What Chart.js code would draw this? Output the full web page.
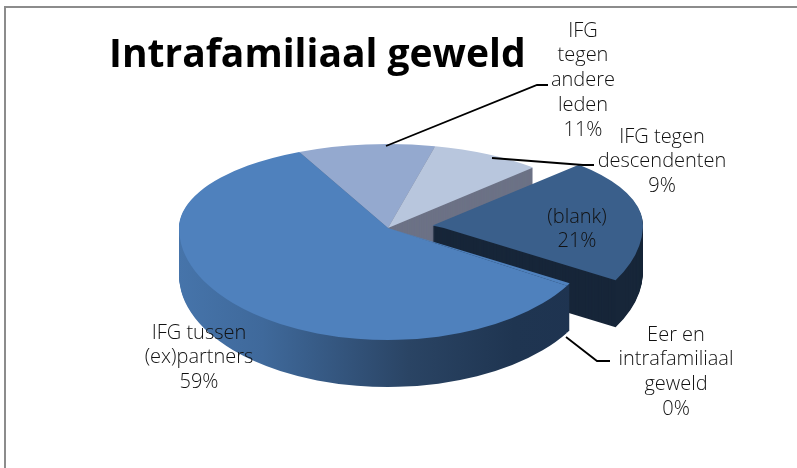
<!DOCTYPE html>
<html>
<head>
<meta charset="utf-8">
<style>
  html, body { margin: 0; padding: 0; background: #fff; }
  #wrap { width: 797px; height: 468px; }
</style>
<script src="https://cdn.jsdelivr.net/npm/chart.js@4"></script>
</head>
<body>
<div id="wrap"><canvas id="pie"></canvas></div>
<script>
// values in pie order, clockwise from the exploded slice
const sliceNames = ['(blank)', 'Eer en intrafamiliaal geweld', 'IFG tussen (ex)partners', 'IFG tegen andere leden', 'IFG tegen descendenten'];
const sliceValues = [21, 0.4, 59.4, 10.6, 8.6];
const sliceColors = ['#3a5f8b', '#4f81bd', '#4f81bd', '#94a9cf', '#b8c6dd'];
const explode = [180, 0, 0, 0, 0]; // chart.js moves a slice by offset / 4

const labelLines = [
  ['(blank)'],
  ['Eer en', 'intrafamiliaal', 'geweld'],
  ['IFG tussen', '(ex)partners'],
  ['IFG', 'tegen', 'andere', 'leden'],
  ['IFG tegen', 'descendenten']
];
const labelSpots = [[577, 217], [676, 335], [199, 333], [583, 31], [662, 137]];
const leaders = [
  [[566, 337], [597, 361], [610, 361]],
  [[386, 146], [537, 85], [548, 85]],
  [[492, 158], [583, 165], [594, 165]]
];

const RADIUS = 209;
const CENTER = [388, 228];
const TOP_SQUASH = 84 / RADIUS;
const BOTTOM_SQUASH = 112 / RADIUS;
const DEPTH = 47;
const drawOrder = [3, 4, 0, 1, 2];

// draw one arc squashed flat, back half and front half with their own scale for the perspective
function drawFlat(ctx, el, cx, cy, dy, fill) {
  const saved = el.options;
  el.options = Object.assign({}, saved, { backgroundColor: fill, borderWidth: 0 });
  [[0, CENTER[1] + dy, TOP_SQUASH], [CENTER[1] + dy, 468, BOTTOM_SQUASH]].forEach(function (part) {
    ctx.save();
    ctx.beginPath();
    ctx.rect(0, part[0], 797, part[1] - part[0]);
    ctx.clip();
    ctx.translate(CENTER[0], CENTER[1] + dy);
    ctx.scale(1, part[2]);
    ctx.translate(-cx, -cy);
    el.draw(ctx);
    ctx.restore();
  });
  el.options = saved;
}

function sideFill(ctx, index, cx) {
  if (index === 3 || index === 4) return '#6c7286';
  if (index === 0) return '#172639';
  const g = ctx.createLinearGradient(cx - RADIUS, 0, cx + RADIUS, 0);
  g.addColorStop(0, '#4674aa');
  g.addColorStop(0.2, '#3f699b');
  g.addColorStop(0.55, '#2a4464');
  g.addColorStop(0.8, '#1f3551');
  g.addColorStop(1, '#1e3350');
  return g;
}

const pie3d = {
  id: 'pie3d',
  beforeDraw(chart) {
    const ctx = chart.ctx;
    ctx.save();
    ctx.fillStyle = '#ffffff';
    ctx.fillRect(0, 0, 797, 468);
    ctx.strokeStyle = '#8c8c8c';
    ctx.lineWidth = 2;
    ctx.beginPath();
    ctx.moveTo(5, 468);
    ctx.lineTo(5, 7);
    ctx.lineTo(797, 7);
    ctx.stroke();
    ctx.restore();
  },
  beforeDatasetsDraw(chart) {
    const ctx = chart.ctx;
    const arcs = chart.getDatasetMeta(0).data;
    const cx = arcs[0].x, cy = arcs[0].y;
    drawOrder.forEach(function (i) {
      const side = sideFill(ctx, i, cx);
      for (let d = DEPTH; d > 0; d--) drawFlat(ctx, arcs[i], cx, cy, d, side);
      drawFlat(ctx, arcs[i], cx, cy, 0, sliceColors[i]);
    });

    ctx.save();
    ctx.strokeStyle = '#000000';
    ctx.lineWidth = 1.8;
    leaders.forEach(function (pts) {
      ctx.beginPath();
      pts.forEach(function (p, n) { n ? ctx.lineTo(p[0], p[1]) : ctx.moveTo(p[0], p[1]); });
      ctx.stroke();
    });

    const total = sliceValues.reduce(function (a, b) { return a + b; }, 0);
    ctx.fillStyle = '#111111';
    ctx.font = '300 20px "Open Sans"';
    ctx.textAlign = 'center';
    ctx.textBaseline = 'middle';
    labelLines.forEach(function (lines, i) {
      const rows = lines.concat([Math.round(sliceValues[i] / total * 100) + '%']);
      rows.forEach(function (row, n) {
        ctx.fillText(row, labelSpots[i][0], labelSpots[i][1] + n * 24.7);
      });
    });
    ctx.restore();
    return false;
  }
};

new Chart(document.getElementById('pie'), {
  type: 'pie',
  data: {
    labels: sliceNames,
    datasets: [{
      data: sliceValues,
      backgroundColor: sliceColors,
      offset: explode,
      borderWidth: 0,
      radius: RADIUS
    }]
  },
  options: {
    responsive: true,
    maintainAspectRatio: false,
    animation: false,
    events: [],
    rotation: 44,
    layout: { padding: { left: 109 } },
    plugins: {
      legend: { display: false },
      tooltip: { enabled: false },
      title: {
        display: true,
        text: 'Intrafamiliaal geweld',
        align: 'start',
        color: '#000000',
        font: { family: '"Open Sans"', size: 39, weight: 'bold' },
        padding: { top: 32, bottom: 0 }
      }
    }
  },
  plugins: [pie3d]
});
</script>
</body>
</html>
